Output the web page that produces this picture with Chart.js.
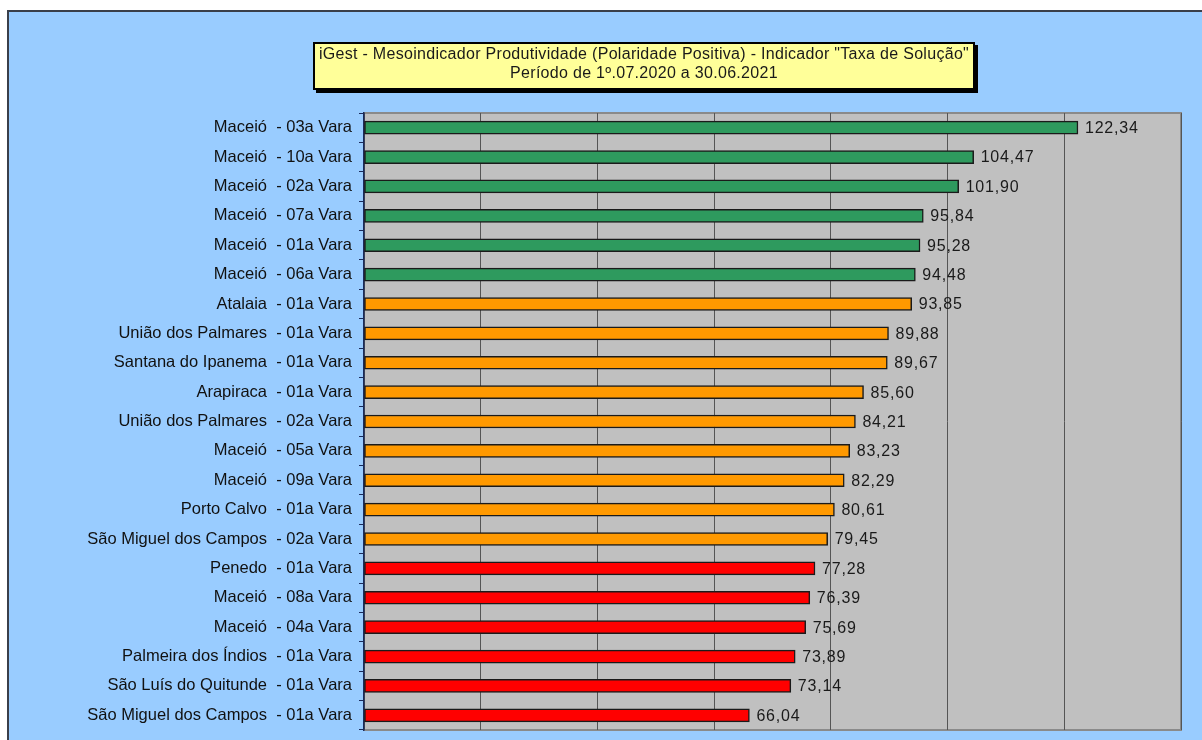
<!DOCTYPE html>
<html>
<head>
<meta charset="utf-8">
<script src="https://cdn.jsdelivr.net/npm/chart.js@4"></script>
<style>
  body { margin: 0; background: #fff; }
  #fundo {
    position: absolute; left: 7px; top: 10px; width: 1195px; height: 730px;
    background: #99ccff; border-top: 2px solid #3a3f4a; border-left: 2px solid #3a3f4a;
  }
  #titulo {
    position: absolute; left: 313px; top: 42px; width: 658px; height: 44px;
    background: #ffff99; border: 2px solid #000; box-shadow: 3px 3px 0 #000;
    font-family: "Liberation Sans", Arial, sans-serif; font-size: 16px; color: #1a1a1a;
    text-align: center; line-height: 19px; padding-top: 0; box-sizing: content-box;
    letter-spacing: 0.3px; white-space: nowrap;
  }
  canvas { position: absolute; left: 0; top: 0; }
</style>
</head>
<body>
<div id="fundo"></div>
<canvas id="grafico" width="1202" height="740"></canvas>
<div id="titulo">iGest - Mesoindicador Produtividade (Polaridade Positiva) - Indicador "Taxa de Solução"<br>Período de 1º.07.2020 a 30.06.2021</div>
<script>
// Varas e taxa de solução
const varas = [
  'Maceió  - 03a Vara',
  'Maceió  - 10a Vara',
  'Maceió  - 02a Vara',
  'Maceió  - 07a Vara',
  'Maceió  - 01a Vara',
  'Maceió  - 06a Vara',
  'Atalaia  - 01a Vara',
  'União dos Palmares  - 01a Vara',
  'Santana do Ipanema  - 01a Vara',
  'Arapiraca  - 01a Vara',
  'União dos Palmares  - 02a Vara',
  'Maceió  - 05a Vara',
  'Maceió  - 09a Vara',
  'Porto Calvo  - 01a Vara',
  'São Miguel dos Campos  - 02a Vara',
  'Penedo  - 01a Vara',
  'Maceió  - 08a Vara',
  'Maceió  - 04a Vara',
  'Palmeira dos Índios  - 01a Vara',
  'São Luís do Quitunde  - 01a Vara',
  'São Miguel dos Campos  - 01a Vara'
];
const taxas = [122.34, 104.47, 101.90, 95.84, 95.28, 94.48, 93.85, 89.88, 89.67, 85.60,
  84.21, 83.23, 82.29, 80.61, 79.45, 77.28, 76.39, 75.69, 73.89, 73.14, 66.04];
// faixa de cada vara: 0 = verde, 1 = laranja, 2 = vermelho
const faixas = [0, 0, 0, 0, 0, 0, 1, 1, 1, 1, 1, 1, 1, 1, 1, 2, 2, 2, 2, 2, 2];

const coresFaixa = ['#2e9a5e', '#ff9900', '#ff0000'];

const fundoPlot = {
  id: 'fundoPlot',
  beforeDraw(chart) {
    const { ctx, chartArea: a } = chart;
    ctx.save();
    ctx.fillStyle = '#c0c0c0';
    ctx.fillRect(a.left, a.top, a.right - a.left, a.bottom - a.top);
    ctx.strokeStyle = '#8a8a8a';
    ctx.lineWidth = 2;
    ctx.beginPath();
    ctx.moveTo(a.left, a.top); ctx.lineTo(a.right, a.top);
    ctx.lineTo(a.right, a.bottom); ctx.lineTo(a.left, a.bottom);
    ctx.stroke();
    ctx.restore();
  }
};

const rotulos = {
  id: 'rotulos',
  afterDatasetsDraw(chart) {
    const { ctx } = chart;
    const meta = chart.getDatasetMeta(0);
    ctx.save();
    ctx.font = '16px "Liberation Sans", Arial, sans-serif';
    ctx.letterSpacing = '0.8px';
    ctx.fillStyle = '#1a1a1a';
    ctx.textBaseline = 'middle';
    meta.data.forEach((bar, i) => {
      ctx.fillText(taxas[i].toFixed(2).replace('.', ','), bar.x + 7, bar.y + 1);
    });
    ctx.restore();
  }
};

new Chart(document.getElementById('grafico'), {
  type: 'bar',
  data: {
    labels: varas,
    datasets: [{
      data: taxas,
      backgroundColor: faixas.map(f => coresFaixa[f]),
      borderColor: '#1a1a1a',
      borderWidth: 1.5,
      borderSkipped: false,
      barThickness: 13
    }]
  },
  options: {
    indexAxis: 'y',
    responsive: false,
    animation: false,
    layout: { padding: { left: 0, top: 113, right: 21, bottom: 10 } },
    plugins: {
      legend: { display: false },
      tooltip: { enabled: false }
    },
    scales: {
      x: {
        min: 0,
        max: 140,
        ticks: { display: false, stepSize: 20 },
        grid: { color: '#555', lineWidth: 1, drawTicks: false },
        border: { display: false },
        afterFit: s => { s.height = 0; s.paddingLeft = 0; s.paddingRight = 0; }
      },
      y: {
        ticks: {
          color: '#111',
          padding: 7,
          font: { family: '"Liberation Sans", Arial, sans-serif', size: 16.5 }
        },
        grid: { drawOnChartArea: false, drawTicks: true, tickLength: 5, color: '#1a2a5a', offset: true },
        border: { color: '#1a2a5a', width: 1.5 },
        afterFit: s => { s.width = 364; s.paddingTop = 0; s.paddingBottom = 0; }
      }
    }
  },
  plugins: [fundoPlot, rotulos]
});
</script>
</body>
</html>
